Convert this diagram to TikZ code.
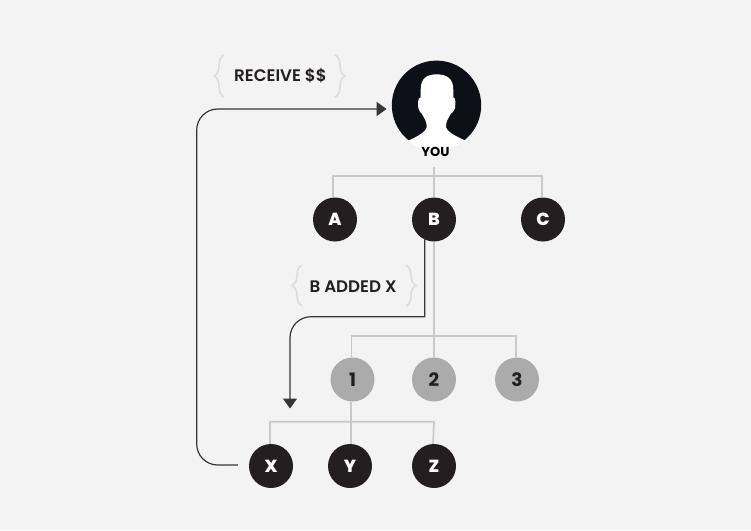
\documentclass[tikz,border=0pt]{standalone}
\usepackage{fontspec}
\setmainfont{Poppins}
\newfontfamily\popsemi{Poppins SemiBold}
\newfontfamily\popheavy{Poppins ExtraBold}
\usetikzlibrary{arrows.meta,backgrounds,decorations.pathreplacing}
\definecolor{pagebg}{HTML}{F3F3F3}
\definecolor{ink}{HTML}{231F20}
\definecolor{youink}{HTML}{0D1117}
\definecolor{busgray}{HTML}{C9C9C9}
\definecolor{bracegray}{HTML}{DCDCDC}
\definecolor{midgray}{HTML}{ABABAB}
\tikzset{
  darknode/.style={circle,fill=ink,text=white,minimum size=44pt,inner sep=0pt,font=\fontsize{17.5}{17.5}\selectfont\popheavy},
  graynode/.style={circle,fill=midgray,text=ink,minimum size=44pt,inner sep=0pt,font=\fontsize{18.5}{18.5}\selectfont\bfseries},
  busline/.style={draw=busgray,line width=1.7pt},
  flow/.style={draw=ink!90!white,line width=1.2pt,-{Triangle[length=10pt,width=14pt]}},
  lbl/.style={text=ink,inner sep=0pt,font=\fontsize{16.7}{16.7}\selectfont\popsemi},
  bracket/.style={draw=bracegray,line width=1.6pt,decorate,decoration={brace,amplitude=10pt,aspect=0.5}},
}
\begin{document}
\begin{tikzpicture}[x=1pt,y=-1pt]
\useasboundingbox (0,0) rectangle (751,530);
% avatar
\node[circle,minimum size=89.4pt,inner sep=0pt,fill=youink] (you) at (436.5,105.3) {};
\begin{scope}[shift={(190,40)},x=0.33333pt,y=-0.33333pt]
  \clip (739,195) circle (137);
  \fill[white] (740,103)
    .. controls (770,103) and (790,115) .. (790,150)
    -- (790,172) .. controls (798,174) and (796,190) .. (795,205)
    .. controls (793,215) and (785,218) .. (782,222)
    .. controls (776,235) and (768,240) .. (768,262)
    .. controls (775,280) and (810,295) .. (835,305)
    -- (880,340) -- (600,340) -- (648,305)
    .. controls (670,295) and (705,280) .. (710,262)
    .. controls (710,240) and (702,235) .. (696,222)
    .. controls (693,218) and (687,215) .. (685,205)
    .. controls (684,190) and (682,174) .. (692,172)
    -- (692,150) .. controls (692,115) and (710,103) .. (740,103) -- cycle;
\end{scope}
\node[text=black,inner sep=0pt,font=\fontsize{13}{13}\selectfont\bfseries] (yout) at (435.5,151.5) {YOU};
% nodes
\node[darknode] (a) at (335,219.5) {A};
\node[darknode] (b) at (434,219.5) {B};
\node[darknode] (c) at (543,219.5) {C};
\node[graynode] (n1) at (352.5,379.5) {1};
\node[graynode] (n2) at (434,379.5) {2};
\node[graynode] (n3) at (517,379.5) {3};
\node[darknode] (x) at (271,466) {X};
\node[darknode] (y) at (350,466) {Y};
\node[darknode] (z) at (434,466) {Z};
% labels
\node[lbl] (recv) at (280.5,76) {RECEIVE \$\$};
\node[lbl] (added) at (353,286.5) {B ADDED X};
\coordinate (recvLB) at (224,97); \coordinate (recvLT) at (224,55);
\coordinate (recvRT) at (335,55); \coordinate (recvRB) at (335,97);
\coordinate (addLB) at (302,306); \coordinate (addLT) at (302,265);
\coordinate (addRT) at (406,265); \coordinate (addRB) at (406,306);
\draw[bracket] (recvLB) -- (recvLT);
\draw[bracket] (recvRT) -- (recvRB);
\draw[bracket] (addLB) -- (addLT);
\draw[bracket] (addRT) -- (addRB);
% flow connectors
\coordinate (fa) at (196.7,465);
\coordinate (fb) at (196.7,109);
\draw[flow,rounded corners=21pt] ([xshift=-11pt,yshift=1pt]x.west) -- (fa) -- (fb) -- ([xshift=-5pt,yshift=-3.7pt]you.west);
\coordinate (fc) at (424.7,316.7);
\coordinate (fd) at (290,316.7);
\coordinate (fe) at (290,408.5);
\coordinate (ff) at (424.7,238);
\draw[flow] (ff) -- (fc) [rounded corners=21pt] -- (fd) -- (fe);
% tree buses
\begin{scope}[on background layer]
  \fill[pagebg] (0,0) rectangle (751,530);
  \coordinate (t1) at (434,175.7);
  \coordinate (t2) at (351.5,335.8);
  \coordinate (t3) at (351,421.7);
  \draw[busline] ([yshift=-11pt]yout.south -| t1) -- (b.north);
  \draw[busline] (a.north -| 333,0) |- (t1) -| (c.north -| 541.7,0);
  \draw[busline] (b.south) -- (n2.north);
  \draw[busline] (n1.north -| t2) |- (n2 |- t2) -| (n3.north -| 516,0);
  \draw[busline] (n1.south -| t3) -- (y.north -| t3);
  \draw[busline] (x.north -| 270,0) |- (z |- t3) -- (z.north -| 433,0);
\end{scope}
\end{tikzpicture}
\end{document}
